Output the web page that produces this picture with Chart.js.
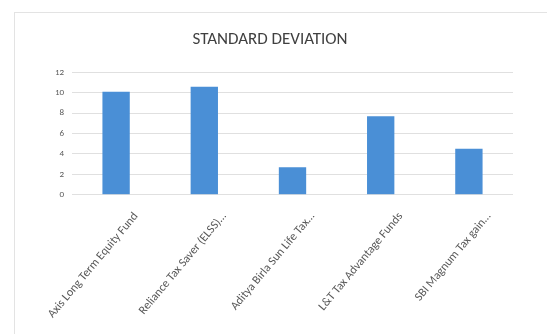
<!DOCTYPE html>
<html>
<head>
<meta charset="utf-8">
<script src="https://cdn.jsdelivr.net/npm/chart.js@4/dist/chart.umd.min.js"></script>
<style>
  html, body { margin: 0; padding: 0; background: #fff; overflow: hidden; }
  #frame { position: absolute; left: 14px; top: 12px; width: 533px; height: 322px;
           border-left: 1px solid #e3e3e3; border-top: 1px solid #e3e3e3; }
  #grafico { position: absolute; left: 0; top: 0; }
</style>
</head>
<body>
<div id="frame"></div>
<canvas id="grafico" width="547" height="334"></canvas>
<script>
// dados do grafico
const fundos = [
    'Axis Long Term Equity Fund',
    'Reliance Tax Saver (ELSS)…',
    'Aditya Birla Sun Life Tax…',
    'L&T Tax Advantage Funds',
    'SBI Magnum Tax gain…'
];
const desvioPadrao = [10.1, 10.6, 2.7, 7.7, 4.5];
const ticksY = [0, 2, 4, 6, 8, 10, 12];

const ctx = document.getElementById('grafico').getContext('2d');
Chart.defaults.font.family = 'Carlito, Calibri, "Open Sans", sans-serif';
Chart.defaults.color = '#595959';

const grafico = new Chart(ctx, {
    type: 'bar',
    data: {
        labels: fundos,
        datasets: [{
            label: 'Standard Deviation',
            data: desvioPadrao,
            backgroundColor: '#4a8fd6',
            categoryPercentage: 1,
            barPercentage: 0.31
        }]
    },
    options: {
        responsive: false,
        animation: false,
        devicePixelRatio: 1,
        layout: { padding: { left: 27, right: 34, top: 30, bottom: 6 } },
        plugins: {
            legend: { display: false },
            tooltip: { enabled: false },
            title: {
                display: true,
                text: 'STANDARD DEVIATION',
                color: '#404040',
                font: { size: 17, weight: 'normal' },
                padding: { top: 0, bottom: 22 }
            }
        },
        scales: {
            x: {
                grid: { display: false },
                border: { display: false },
                ticks: {
                    minRotation: 50,
                    maxRotation: 50,
                    labelOffset: 20,
                    padding: 7,
                    font: { size: 12 },
                    color: '#595959'
                }
            },
            y: {
                min: 0,
                max: 12,
                afterBuildTicks: (eixo) => { eixo.ticks = ticksY.map(v => ({ value: v })); },
                afterFit: (eixo) => { eixo.width = 45; },
                grid: { color: '#e0e0e0', drawTicks: false },
                border: { display: false },
                ticks: { font: { size: 9 }, padding: 8, color: '#595959' }
            }
        }
    }
});
</script>
</body>
</html>
